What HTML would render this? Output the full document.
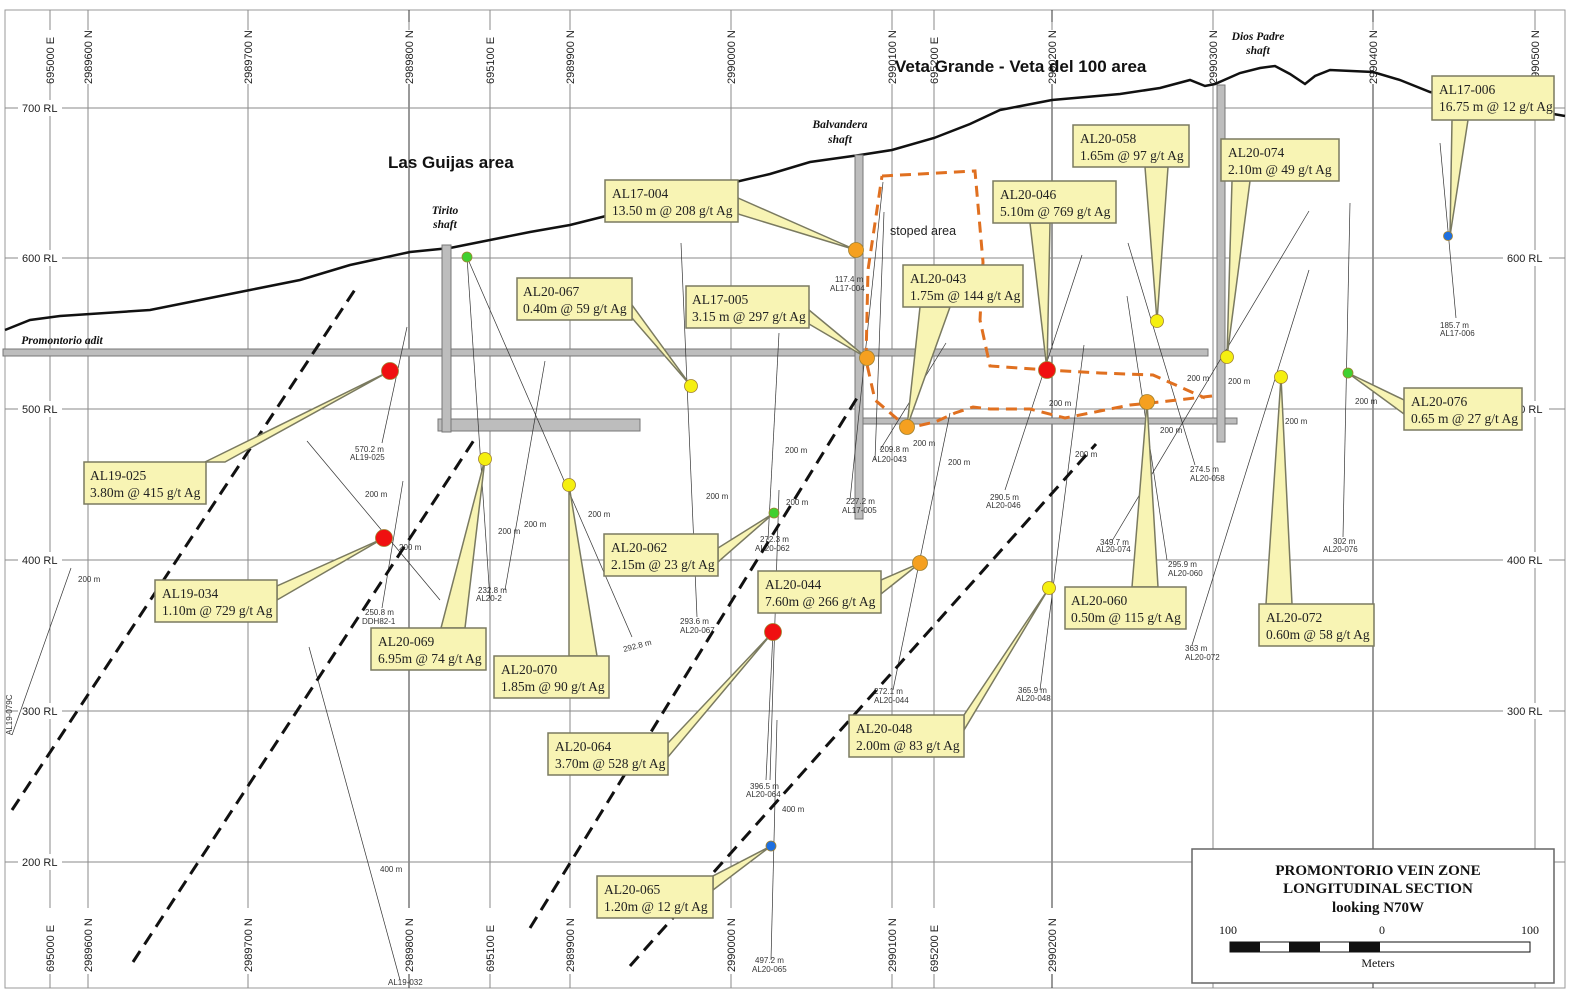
<!DOCTYPE html>
<html><head><meta charset="utf-8"><style>
html,body{margin:0;padding:0;background:#fff}
svg{display:block}
.gl{stroke:#8a8a8a;stroke-width:1}
.gv{font-family:"Liberation Sans",sans-serif;font-size:11px;fill:#222}
.cb{fill:#f8f4b4;stroke:#7a7a60;stroke-width:1.5}
.ct{font-family:"Liberation Serif",serif;font-size:13.5px;fill:#222}
.dh{stroke:#333;stroke-width:0.7;fill:none}
.sm{font-family:"Liberation Sans",sans-serif;font-size:8px;fill:#333}
.sh{fill:#bdbdbd;stroke:#777;stroke-width:1}
</style></head><body>
<svg width="1572" height="1000" viewBox="0 0 1572 1000" xmlns="http://www.w3.org/2000/svg">
<rect x="0" y="0" width="1572" height="1000" fill="#fff"/>
<rect x="5" y="10" width="1560" height="978" fill="none" stroke="#999" stroke-width="1"/>
<!-- grid -->
<g class="gl">
<line x1="50" y1="10" x2="50" y2="988"/><line x1="88" y1="10" x2="88" y2="988"/>
<line x1="248" y1="10" x2="248" y2="988"/><line x1="409" y1="10" x2="409" y2="988" stroke="#333"/>
<line x1="490" y1="10" x2="490" y2="988"/><line x1="570" y1="10" x2="570" y2="988"/>
<line x1="731" y1="10" x2="731" y2="988"/><line x1="892" y1="10" x2="892" y2="988"/>
<line x1="934" y1="10" x2="934" y2="988"/><line x1="1052" y1="10" x2="1052" y2="988" stroke="#333"/>
<line x1="1213" y1="10" x2="1213" y2="988"/><line x1="1373" y1="10" x2="1373" y2="988" stroke="#333"/>
<line x1="1535" y1="10" x2="1535" y2="988"/>
<line x1="5" y1="108" x2="1565" y2="108"/><line x1="5" y1="258" x2="1565" y2="258"/>
<line x1="5" y1="409" x2="1565" y2="409"/><line x1="5" y1="560" x2="1565" y2="560"/>
<line x1="5" y1="711" x2="1565" y2="711"/><line x1="5" y1="862" x2="1565" y2="862"/>
</g>
<!-- grid label backgrounds -->
<g fill="#fff">
<rect x="40" y="22" width="1505" height="62"/>
<rect x="40" y="908" width="1505" height="66"/>
<rect x="18" y="100" width="44" height="16"/><rect x="18" y="250" width="44" height="16"/><rect x="18" y="401" width="44" height="16"/><rect x="18" y="552" width="44" height="16"/><rect x="18" y="703" width="44" height="16"/><rect x="18" y="854" width="44" height="16"/>
<rect x="1503" y="100" width="46" height="16"/><rect x="1503" y="250" width="46" height="16"/><rect x="1503" y="401" width="46" height="16"/><rect x="1503" y="552" width="46" height="16"/><rect x="1503" y="703" width="46" height="16"/>
</g>
<g class="gl">
<line x1="50" y1="22" x2="50" y2="30"/><line x1="88" y1="22" x2="88" y2="30"/><line x1="248" y1="22" x2="248" y2="30"/><line x1="409" y1="22" x2="409" y2="30"/><line x1="490" y1="22" x2="490" y2="30"/><line x1="570" y1="22" x2="570" y2="30"/><line x1="731" y1="22" x2="731" y2="30"/><line x1="892" y1="22" x2="892" y2="30"/><line x1="934" y1="22" x2="934" y2="30"/><line x1="1052" y1="22" x2="1052" y2="30"/><line x1="1213" y1="22" x2="1213" y2="30"/><line x1="1373" y1="22" x2="1373" y2="30"/><line x1="1535" y1="22" x2="1535" y2="30"/>
</g>
<g class="gv">
<text transform="translate(54,84) rotate(-90)">695000 E</text>
<text transform="translate(92,84) rotate(-90)">2989600 N</text>
<text transform="translate(252,84) rotate(-90)">2989700 N</text>
<text transform="translate(413,84) rotate(-90)">2989800 N</text>
<text transform="translate(494,84) rotate(-90)">695100 E</text>
<text transform="translate(574,84) rotate(-90)">2989900 N</text>
<text transform="translate(735,84) rotate(-90)">2990000 N</text>
<text transform="translate(896,84) rotate(-90)">2990100 N</text>
<text transform="translate(938,84) rotate(-90)">695200 E</text>
<text transform="translate(1056,84) rotate(-90)">2990200 N</text>
<text transform="translate(1217,84) rotate(-90)">2990300 N</text>
<text transform="translate(1377,84) rotate(-90)">2990400 N</text>
<text transform="translate(1539,84) rotate(-90)">2990500 N</text>
<text transform="translate(54,972) rotate(-90)">695000 E</text>
<text transform="translate(92,972) rotate(-90)">2989600 N</text>
<text transform="translate(252,972) rotate(-90)">2989700 N</text>
<text transform="translate(413,972) rotate(-90)">2989800 N</text>
<text transform="translate(494,972) rotate(-90)">695100 E</text>
<text transform="translate(574,972) rotate(-90)">2989900 N</text>
<text transform="translate(735,972) rotate(-90)">2990000 N</text>
<text transform="translate(896,972) rotate(-90)">2990100 N</text>
<text transform="translate(938,972) rotate(-90)">695200 E</text>
<text transform="translate(1056,972) rotate(-90)">2990200 N</text>
<text transform="translate(1539,972) rotate(-90)">2990500 N</text>
<text x="22" y="112">700 RL</text><text x="22" y="262">600 RL</text><text x="22" y="413">500 RL</text><text x="22" y="564">400 RL</text><text x="22" y="715">300 RL</text><text x="22" y="866">200 RL</text>
<text x="1507" y="112">700 RL</text><text x="1507" y="262">600 RL</text><text x="1507" y="413">500 RL</text><text x="1507" y="564">400 RL</text><text x="1507" y="715">300 RL</text>
</g>
<!-- topography -->
<polyline fill="none" stroke="#111" stroke-width="2.5" points="5,330 30,320 60,316 150,310 200,300 250,290 300,280 350,265 410,252 450,248 490,240 530,232 570,225 610,215 650,205 700,192 731,183 770,174 810,162 860,155 892,150 934,138 970,124 1000,110 1052,100 1120,94 1160,88 1190,80 1205,86 1215,84 1240,73 1260,68 1275,66 1290,74 1305,84 1315,76 1330,70 1373,72 1400,80 1430,92 1480,102 1530,110 1565,116"/>
<!-- adit and shafts -->
<rect class="sh" x="3" y="349" width="1205" height="7"/>
<rect class="sh" x="438" y="419" width="202" height="12"/>
<rect class="sh" x="442" y="245" width="9" height="187"/>
<rect class="sh" x="862" y="418" width="375" height="6"/>
<rect class="sh" x="855" y="155" width="8" height="364"/>
<rect class="sh" x="1217" y="85" width="8" height="357"/>
<!-- drill traces -->
<g class="dh">
<line x1="407" y1="327" x2="382" y2="443"/><line x1="307" y1="441" x2="440" y2="600"/>
<line x1="403" y1="481" x2="382" y2="608"/><line x1="71" y1="568" x2="12" y2="735"/>
<line x1="309" y1="647" x2="400" y2="980"/><line x1="467" y1="257" x2="490" y2="600"/>
<line x1="467" y1="257" x2="632" y2="637"/><line x1="545" y1="361" x2="505" y2="590"/>
<line x1="681" y1="243" x2="697" y2="617"/><line x1="779" y1="333" x2="768" y2="540"/>
<line x1="779" y1="490" x2="770" y2="780"/><line x1="773" y1="632" x2="766" y2="780"/>
<line x1="777" y1="720" x2="771" y2="960"/><line x1="883" y1="182" x2="850" y2="500"/>
<line x1="884" y1="212" x2="875" y2="460"/><line x1="946" y1="343" x2="880" y2="450"/>
<line x1="950" y1="413" x2="893" y2="690"/><line x1="1082" y1="255" x2="1005" y2="490"/>
<line x1="1084" y1="345" x2="1040" y2="690"/><line x1="1128" y1="243" x2="1195" y2="465"/>
<line x1="1127" y1="296" x2="1167" y2="560"/><line x1="1309" y1="211" x2="1112" y2="541"/>
<line x1="1309" y1="270" x2="1192" y2="645"/><line x1="1350" y1="203" x2="1343" y2="537"/>
<line x1="1440" y1="143" x2="1456" y2="318"/>
</g>
<g class="sm">
<text x="355" y="452">570.2 m</text><text x="350" y="460">AL19-025</text>
<text x="365" y="615">250.8 m</text><text x="362" y="624">DDH82-1</text>
<text x="478" y="593">232.8 m</text><text x="476" y="601">AL20-2</text>
<text x="624" y="652" transform="rotate(-15 624 652)">292.8 m</text>
<text x="680" y="624">293.6 m</text><text x="680" y="633">AL20-067</text>
<text x="760" y="542">272.3 m</text><text x="755" y="551">AL20-062</text>
<text x="750" y="789">396.5 m</text><text x="746" y="797">AL20-064</text>
<text x="755" y="963">497.2 m</text><text x="752" y="972">AL20-065</text>
<text x="835" y="282">117.4 m</text><text x="830" y="291">AL17-004</text>
<text x="846" y="504">227.2 m</text><text x="842" y="513">AL17-005</text>
<text x="880" y="452">209.8 m</text><text x="872" y="462">AL20-043</text>
<text x="874" y="694">272.1 m</text><text x="874" y="703">AL20-044</text>
<text x="990" y="500">290.5 m</text><text x="986" y="508">AL20-046</text>
<text x="1018" y="693">365.9 m</text><text x="1016" y="701">AL20-048</text>
<text x="1190" y="472">274.5 m</text><text x="1190" y="481">AL20-058</text>
<text x="1168" y="567">295.9 m</text><text x="1168" y="576">AL20-060</text>
<text x="1100" y="545">349.7 m</text><text x="1096" y="552">AL20-074</text>
<text x="1185" y="651">363 m</text><text x="1185" y="660">AL20-072</text>
<text x="1333" y="544">302 m</text><text x="1323" y="552">AL20-076</text>
<text x="1440" y="328">185.7 m</text><text x="1440" y="336">AL17-006</text>
<text x="365" y="497">200 m</text><text x="399" y="550">200 m</text><text x="78" y="582">200 m</text>
<text x="785" y="453">200 m</text><text x="786" y="505">200 m</text><text x="706" y="499">200 m</text>
<text x="498" y="534">200 m</text><text x="588" y="517">200 m</text><text x="524" y="527">200 m</text>
<text x="913" y="446">200 m</text><text x="948" y="465">200 m</text><text x="1049" y="406">200 m</text>
<text x="1160" y="433">200 m</text><text x="1075" y="457">200 m</text><text x="1187" y="381">200 m</text>
<text x="1228" y="384">200 m</text><text x="1285" y="424">200 m</text><text x="1355" y="404">200 m</text>
<text x="782" y="812">400 m</text><text x="380" y="872">400 m</text>
<text transform="translate(12,735) rotate(-90)">AL19-079C</text>
<text x="388" y="985">AL19-032</text>
</g>
<!-- faults -->
<g stroke="#111" stroke-width="3" stroke-dasharray="13,8" fill="none">
<line x1="12" y1="810" x2="358" y2="285"/>
<line x1="133" y1="962" x2="476" y2="437"/>
<line x1="530" y1="928" x2="857" y2="398"/>
<line x1="630" y1="966" x2="1096" y2="444"/>
</g>
<!-- stope -->
<path d="M882,176 L975,171 L983,262 L980,320 L990,366 L1047,370 L1100,373 L1153,375 L1205,398 M1212,396 L1160,402 L1130,405 L1065,418 L1030,409 L990,409 L973,407 L955,413 L935,422 L908,428 L875,400 L866,360 L868,270 L882,176" fill="none" stroke="#e07020" stroke-width="3" stroke-dasharray="11,7"/>
<!-- callout pointers -->
<g class="cb">
<polygon points="1452,120 1468,120 1450,236"/>
<polygon points="1145,167 1168,167 1157,321"/>
<polygon points="1232,181 1250,181 1227,357"/>
<polygon points="738,198 738,214 856,250"/>
<polygon points="1030,223 1050,223 1047,370"/>
<polygon points="920,307 950,307 907,427"/>
<polygon points="632,305 632,318 691,386"/>
<polygon points="809,310 809,324 867,358"/>
<polygon points="1404,400 1404,414 1348,373"/>
<polygon points="205,462 225,462 390,371"/>
<polygon points="718,548 718,562 774,513"/>
<polygon points="881,580 881,594 920,563"/>
<polygon points="277,586 277,600 384,538"/>
<polygon points="441,628 465,628 485,459"/>
<polygon points="1132,587 1158,587 1147,402"/>
<polygon points="1266,604 1292,604 1281,377"/>
<polygon points="569,656 597,656 569,485"/>
<polygon points="668,743 668,757 773,632"/>
<polygon points="964,715 964,730 1049,588"/>
<polygon points="713,876 713,890 771,846"/>
</g>
<!-- dots -->
<g stroke="#a08030" stroke-width="0.8">
<circle cx="1448" cy="236" r="4.5" fill="#1e6fe0"/>
<circle cx="1157" cy="321" r="6.5" fill="#f5ef10"/>
<circle cx="1227" cy="357" r="6.5" fill="#f5ef10"/>
<circle cx="856" cy="250" r="7.5" fill="#f5a020"/>
<circle cx="1047" cy="370" r="8.5" fill="#f01010"/>
<circle cx="907" cy="427" r="7.5" fill="#f5a020"/>
<circle cx="691" cy="386" r="6.5" fill="#f5ef10"/>
<circle cx="867" cy="358" r="7.5" fill="#f5a020"/>
<circle cx="1348" cy="373" r="5" fill="#40d030"/>
<circle cx="390" cy="371" r="8.5" fill="#f01010"/>
<circle cx="774" cy="513" r="5" fill="#40d030"/>
<circle cx="920" cy="563" r="7.5" fill="#f5a020"/>
<circle cx="384" cy="538" r="8.5" fill="#f01010"/>
<circle cx="485" cy="459" r="6.5" fill="#f5ef10"/>
<circle cx="1147" cy="402" r="7.5" fill="#f5a020"/>
<circle cx="1281" cy="377" r="6.5" fill="#f5ef10"/>
<circle cx="569" cy="485" r="6.5" fill="#f5ef10"/>
<circle cx="773" cy="632" r="8.5" fill="#f01010"/>
<circle cx="1049" cy="588" r="6.5" fill="#f5ef10"/>
<circle cx="771" cy="846" r="5" fill="#1e6fe0"/>
<circle cx="467" cy="257" r="5" fill="#40d030"/>
</g>
<!-- callout boxes -->
<g class="cb">
<rect x="1432" y="76" width="122" height="44"/>
<rect x="1073" y="125" width="116" height="42"/>
<rect x="1221" y="139" width="118" height="42"/>
<rect x="605" y="180" width="133" height="42"/>
<rect x="993" y="181" width="123" height="42"/>
<rect x="903" y="265" width="120" height="42"/>
<rect x="517" y="278" width="115" height="42"/>
<rect x="686" y="286" width="123" height="42"/>
<rect x="1404" y="388" width="118" height="42"/>
<rect x="84" y="462" width="122" height="42"/>
<rect x="604" y="534" width="114" height="42"/>
<rect x="758" y="571" width="123" height="42"/>
<rect x="155" y="580" width="122" height="42"/>
<rect x="371" y="628" width="115" height="42"/>
<rect x="1065" y="587" width="121" height="42"/>
<rect x="1259" y="604" width="115" height="42"/>
<rect x="494" y="656" width="115" height="42"/>
<rect x="548" y="733" width="120" height="42"/>
<rect x="849" y="715" width="115" height="42"/>
<rect x="597" y="876" width="116" height="42"/>
</g>
<g class="ct">
<text x="1439" y="94">AL17-006</text><text x="1439" y="111">16.75 m @ 12 g/t Ag</text>
<text x="1080" y="143">AL20-058</text><text x="1080" y="160">1.65m @ 97 g/t Ag</text>
<text x="1228" y="157">AL20-074</text><text x="1228" y="174">2.10m @ 49 g/t Ag</text>
<text x="612" y="198">AL17-004</text><text x="612" y="215">13.50 m @ 208 g/t Ag</text>
<text x="1000" y="199">AL20-046</text><text x="1000" y="216">5.10m @ 769 g/t Ag</text>
<text x="910" y="283">AL20-043</text><text x="910" y="300">1.75m @ 144 g/t Ag</text>
<text x="523" y="296">AL20-067</text><text x="523" y="313">0.40m @ 59 g/t Ag</text>
<text x="692" y="304">AL17-005</text><text x="692" y="321">3.15 m @ 297 g/t Ag</text>
<text x="1411" y="406">AL20-076</text><text x="1411" y="423">0.65 m @ 27 g/t Ag</text>
<text x="90" y="480">AL19-025</text><text x="90" y="497">3.80m @ 415 g/t Ag</text>
<text x="611" y="552">AL20-062</text><text x="611" y="569">2.15m @ 23 g/t Ag</text>
<text x="765" y="589">AL20-044</text><text x="765" y="606">7.60m @ 266 g/t Ag</text>
<text x="162" y="598">AL19-034</text><text x="162" y="615">1.10m @ 729 g/t Ag</text>
<text x="378" y="646">AL20-069</text><text x="378" y="663">6.95m @ 74 g/t Ag</text>
<text x="1071" y="605">AL20-060</text><text x="1071" y="622">0.50m @ 115 g/t Ag</text>
<text x="1266" y="622">AL20-072</text><text x="1266" y="639">0.60m @ 58 g/t Ag</text>
<text x="501" y="674">AL20-070</text><text x="501" y="691">1.85m @ 90 g/t Ag</text>
<text x="555" y="751">AL20-064</text><text x="555" y="768">3.70m @ 528 g/t Ag</text>
<text x="856" y="733">AL20-048</text><text x="856" y="750">2.00m @ 83 g/t Ag</text>
<text x="604" y="894">AL20-065</text><text x="604" y="911">1.20m @ 12 g/t Ag</text>
</g>
<!-- area labels -->
<g font-family="Liberation Sans,sans-serif" font-weight="bold" fill="#111">
<text x="388" y="168" font-size="17">Las Guijas area</text>
<text x="895" y="72" font-size="17">Veta Grande - Veta del 100 area</text>
</g>
<g font-family="Liberation Serif,serif" font-weight="bold" font-style="italic" font-size="11.5" fill="#111" text-anchor="middle">
<text x="445" y="214">Tirito</text><text x="445" y="228">shaft</text>
<text x="840" y="128">Balvandera</text><text x="840" y="143">shaft</text>
<text x="1258" y="40">Dios Padre</text><text x="1258" y="54">shaft</text>
<text x="62" y="344">Promontorio adit</text>
</g>
<text x="890" y="235" font-family="Liberation Sans,sans-serif" font-size="12.5" fill="#222">stoped area</text>
<!-- legend -->
<rect x="1192" y="849" width="362" height="134" fill="#fff" stroke="#666" stroke-width="1.5"/>
<g font-family="Liberation Serif,serif" font-weight="bold" font-size="15" fill="#111" text-anchor="middle">
<text x="1378" y="875">PROMONTORIO VEIN ZONE</text>
<text x="1378" y="893">LONGITUDINAL SECTION</text>
<text x="1378" y="912">looking N70W</text>
</g>
<g font-family="Liberation Serif,serif" font-size="12" fill="#111" text-anchor="middle">
<text x="1228" y="934">100</text><text x="1382" y="934">0</text><text x="1530" y="934">100</text>
<text x="1378" y="967">Meters</text>
</g>
<rect x="1230" y="942" width="300" height="10" fill="#fff" stroke="#111"/>
<rect x="1230" y="942" width="30" height="10" fill="#111"/>
<rect x="1289" y="942" width="31" height="10" fill="#111"/>
<rect x="1349" y="942" width="31" height="10" fill="#111"/>
</svg>
</body></html>
